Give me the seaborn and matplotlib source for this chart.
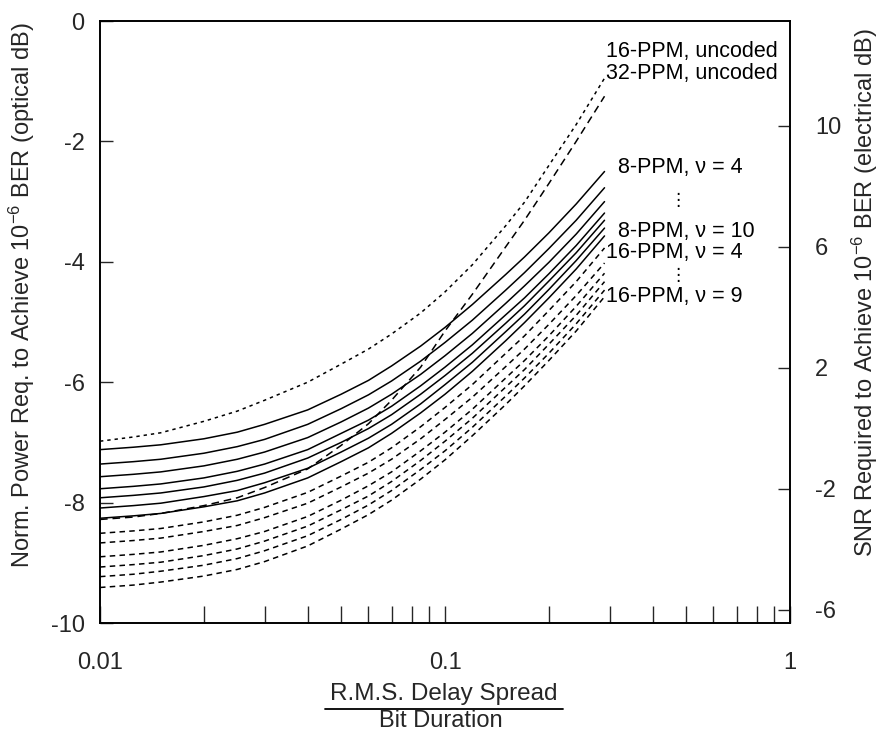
import numpy as np
import pandas as pd
import matplotlib
matplotlib.use("Agg")
import matplotlib.pyplot as plt
import seaborn as sns
from matplotlib.lines import Line2D

# ---------------- data ----------------
x_pts = [0.01, 0.0125, 0.015, 0.02, 0.025, 0.03, 0.04, 0.05, 0.06, 0.07, 0.085,
         0.1, 0.12, 0.15, 0.17, 0.2, 0.24, 0.29]

ppm16_uncoded = [-6.98, -6.91, -6.84, -6.65, -6.48, -6.30, -6.00, -5.70, -5.45, -5.20,
                 -4.85, -4.50, -4.05, -3.40, -3.01, -2.40, -1.72, -0.95]
ppm32_uncoded = [-8.28, -8.24, -8.18, -8.05, -7.92, -7.75, -7.44, -7.05, -6.69, -6.30,
                 -5.75, -5.15, -4.54, -3.75, -3.31, -2.70, -2.00, -1.25]

ppm8_nu4 = [-7.12, -7.08, -7.04, -6.94, -6.83, -6.70, -6.46, -6.20, -5.97, -5.73,
            -5.40, -5.09, -4.71, -4.21, -3.92, -3.52, -3.04, -2.50]
ppm8_nu5 = [-7.36, -7.32, -7.28, -7.18, -7.07, -6.95, -6.70, -6.44, -6.21, -5.98,
            -5.65, -5.34, -4.97, -4.47, -4.18, -3.78, -3.31, -2.77]
ppm8_nu6 = [-7.57, -7.53, -7.49, -7.39, -7.28, -7.16, -6.92, -6.66, -6.43, -6.20,
            -5.87, -5.56, -5.19, -4.69, -4.40, -4.01, -3.54, -3.00]
ppm8_nu7 = [-7.77, -7.73, -7.69, -7.59, -7.48, -7.36, -7.12, -6.85, -6.63, -6.40,
            -6.06, -5.75, -5.38, -4.88, -4.60, -4.20, -3.73, -3.19]
ppm8_nu8 = [-7.92, -7.88, -7.84, -7.74, -7.63, -7.51, -7.26, -7.00, -6.77, -6.54,
            -6.20, -5.89, -5.52, -5.02, -4.73, -4.32, -3.85, -3.31]
ppm8_nu9 = [-8.09, -8.05, -8.01, -7.90, -7.80, -7.67, -7.43, -7.16, -6.93, -6.70,
            -6.36, -6.04, -5.67, -5.16, -4.87, -4.46, -3.98, -3.44]
ppm8_nu10 = [-8.26, -8.22, -8.18, -8.07, -7.97, -7.84, -7.59, -7.32, -7.09, -6.85,
             -6.51, -6.20, -5.82, -5.31, -5.01, -4.60, -4.12, -3.57]

ppm16_nu4 = [-8.51, -8.47, -8.43, -8.32, -8.21, -8.08, -7.83, -7.56, -7.33, -7.09,
             -6.74, -6.42, -6.04, -5.52, -5.23, -4.81, -4.33, -3.77]
ppm16_nu5 = [-8.67, -8.63, -8.59, -8.48, -8.38, -8.25, -8.01, -7.74, -7.51, -7.28,
             -6.94, -6.62, -6.25, -5.74, -5.45, -5.04, -4.56, -4.02]
ppm16_nu6 = [-8.90, -8.86, -8.82, -8.71, -8.60, -8.48, -8.23, -7.96, -7.72, -7.49,
             -7.14, -6.83, -6.45, -5.93, -5.64, -5.23, -4.74, -4.19]
ppm16_nu7 = [-9.07, -9.03, -8.99, -8.88, -8.77, -8.64, -8.39, -8.12, -7.89, -7.65,
             -7.30, -6.98, -6.60, -6.08, -5.79, -5.37, -4.89, -4.33]
ppm16_nu8 = [-9.23, -9.19, -9.14, -9.04, -8.93, -8.80, -8.55, -8.28, -8.04, -7.80,
             -7.45, -7.14, -6.75, -6.23, -5.93, -5.52, -5.03, -4.47]
ppm16_nu9 = [-9.41, -9.37, -9.32, -9.22, -9.11, -8.98, -8.72, -8.44, -8.20, -7.96,
             -7.61, -7.29, -6.89, -6.37, -6.06, -5.64, -5.15, -4.58]

x_ticks = [0.01, 0.1, 1]
x_ticklabels = ["0.01", "0.1", "1"]
left_ticks = [0, -2, -4, -6, -8, -10]
right_ticks = [10, 6, 2, -2, -6]

curve_labels = ["16-PPM, uncoded", "32-PPM, uncoded", "8-PPM, ν = 4", "8-PPM, ν = 10",
                "16-PPM, ν = 4", "16-PPM, ν = 9"]

# ---------------- style ----------------
sns.set_theme(style="white")
plt.rcParams["font.family"] = ["Liberation Sans", "DejaVu Sans"]
plt.rcParams["mathtext.fontset"] = "custom"
plt.rcParams["mathtext.rm"] = "Liberation Sans"
plt.rcParams["mathtext.it"] = "Liberation Sans:italic"
plt.rcParams["mathtext.bf"] = "Liberation Sans:bold"

FS_TICK = 17
FS_LAB = 17
FS_CURVE = 15.5
fig = plt.figure(figsize=(8.82, 7.36), dpi=100)
W, H = 882, 736
ax = fig.add_axes([100 / W, 1 - 623 / H, 690 / W, 602 / H])

curves = []
curves.append((ppm16_uncoded, (0, (2.2, 2.6))))
curves.append((ppm32_uncoded, (0, (5.0, 3.2))))
for c in [ppm8_nu4, ppm8_nu5, ppm8_nu6, ppm8_nu7, ppm8_nu8, ppm8_nu9, ppm8_nu10]:
    curves.append((c, "-"))
for c in [ppm16_nu4, ppm16_nu5, ppm16_nu6, ppm16_nu7, ppm16_nu8, ppm16_nu9]:
    curves.append((c, (0, (3.6, 2.8))))

for vals, ls in curves:
    df = pd.DataFrame({"x": x_pts, "y": vals})
    sns.lineplot(data=df, x="x", y="y", ax=ax, color="black", linestyle=ls,
                 linewidth=1.1, sort=False, estimator=None)

ax.set_xscale("log")
ax.set_xlim(0.01, 1)
ax.set_ylim(-10, 0)
ax.set_xticks(x_ticks)
ax.set_xticklabels(x_ticklabels)
ax.set_yticks(left_ticks)
ax.set_yticklabels([str(v) for v in left_ticks])
ax.set_xlabel("")
ax.set_ylabel("")
ax.tick_params(axis="x", which="major", direction="in", length=12, width=1.0,
               labelsize=FS_TICK, pad=21, bottom=True, top=False)
ax.tick_params(axis="x", which="minor", direction="in", length=12, width=1.0,
               bottom=True, top=False)
ax.tick_params(axis="y", which="major", direction="in", length=9, width=1.0,
               labelsize=FS_TICK, pad=11, left=True, right=False)
for s in ax.spines.values():
    s.set_linewidth(1.2)
    s.set_color("black")

ax2 = ax.twinx()
ax2.set_ylim(-6.43, 13.47)
ax2.set_yticks(right_ticks)
ax2.set_yticklabels([str(v) for v in right_ticks])
ax2.tick_params(axis="y", direction="in", length=9, width=1.0, labelsize=FS_TICK, pad=18)
ax2.set_ylabel("")
for s in ax2.spines.values():
    s.set_linewidth(1.2)
    s.set_color("black")

# curve labels (data coordinates)
lab_pos = [(0.293, -0.51), (0.293, -0.88), (0.317, -2.43), (0.317, -3.49),
           (0.293, -3.85), (0.293, -4.57)]
for txt, (lx, ly) in zip(curve_labels, lab_pos):
    ax.text(lx, ly, txt, fontsize=FS_CURVE, ha="left", va="center", color="black")
for ly in (-2.97, -4.22):
    ax.text(0.473, ly, "⋮", fontsize=FS_CURVE - 3, ha="center", va="center",
            color="black", family=["DejaVu Sans"])

# axis titles
fig.text(22 / W, 1 - 295 / H,
         "Norm. Power Req. to Achieve 10$^{-6}$ BER (optical dB)",
         rotation=90, ha="center", va="center", fontsize=FS_LAB)
fig.text(865 / W, 1 - 293 / H,
         "SNR Required to Achieve 10$^{-6}$ BER (electrical dB)",
         rotation=90, ha="center", va="center", fontsize=FS_LAB)
fig.text(444 / W, 1 - 694 / H, "R.M.S. Delay Spread", ha="center", va="center",
         fontsize=FS_LAB + 0.5)
fig.text(441 / W, 1 - 721 / H, "Bit Duration", ha="center", va="center",
         fontsize=FS_LAB)
fig.add_artist(Line2D([325 / W, 563 / W], [1 - 709 / H, 1 - 709 / H],
                      transform=fig.transFigure, color="black", linewidth=1.3))

fig.savefig("out.png", dpi=100)
